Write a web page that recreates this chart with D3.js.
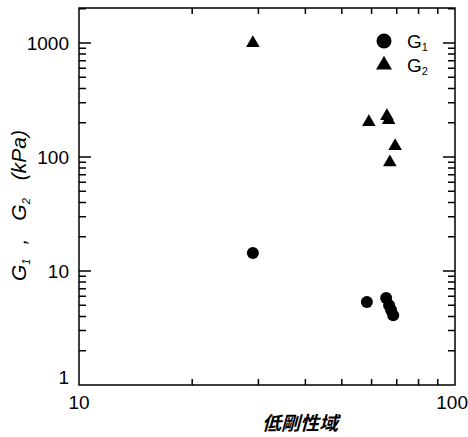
<!DOCTYPE html>
<html>
<head>
<meta charset="utf-8">
<script src="https://cdn.jsdelivr.net/npm/d3@7"></script>
<style>
  body { margin: 0; background: #fff; }
  svg { display: block; }
</style>
</head>
<body>
<svg id="chart"></svg>
<script>
// data
const g1X = [29, 58.3, 65.6, 66.8, 67.6, 68.5];
const g1Y = [14.4, 5.35, 5.8, 5.0, 4.55, 4.1];
const g2X = [29, 59, 65.9, 66.6, 69.3, 67.1];
const g2Y = [1000, 203, 229, 211, 125, 90];
const xTicks = [10, 100];
const yTicks = [1, 10, 100, 1000];

const svg = d3.select('svg#chart')
    .attr('width', 468)
    .attr('height', 437);

const xScale = d3.scaleLog().domain([10, 100]).range([79, 455]);
const yScale = d3.scaleLog().domain([1, 2030]).range([385, 8]);

const xMinor = d3.range(20, 100, 10);
const yMinor = [];
[1, 10, 100, 1000].forEach(d => {
    for (let k = 2; k <= 9; k++) if (d * k < 2030) yMinor.push(d * k);
});
const tickFont = 'Liberation Sans, Arial, sans-serif';
const x0 = xScale(10), x1 = xScale(100);
const y0 = yScale(1), y1 = yScale.range()[1];

// frame and inward ticks, built as one path
const p = d3.path();
p.moveTo(x0, y1); p.lineTo(x1, y1); p.lineTo(x1, y0); p.lineTo(x0, y0); p.closePath();
const yAll = yMinor.map(v => [v, 7]).concat(yTicks.slice(1).map(v => [v, 12]));
yAll.forEach(([v, len]) => {
    const y = yScale(v);
    p.moveTo(x0, y); p.lineTo(x0 + len, y);
    p.moveTo(x1, y); p.lineTo(x1 - len, y);
});
xMinor.forEach(v => {
    const x = xScale(v);
    p.moveTo(x, y0); p.lineTo(x, y0 - 6);
    p.moveTo(x, y1); p.lineTo(x, y1 + 6);
});
svg.append('path')
    .attr('d', p.toString())
    .attr('fill', 'none')
    .attr('stroke', '#000')
    .attr('stroke-width', 1.5);

// tick labels
svg.append('g')
    .attr('font-family', tickFont)
    .attr('font-size', 19)
    .attr('text-anchor', 'end')
    .selectAll('text')
    .data(yTicks)
    .enter()
    .append('text')
    .attr('x', x0 - 10)
    .attr('y', d => yScale(d))
    .attr('dy', d => d === 1 ? '-0.05em' : '0.35em')
    .text(d => d);
svg.append('g')
    .attr('font-family', tickFont)
    .attr('font-size', 19)
    .selectAll('text')
    .data(xTicks)
    .enter()
    .append('text')
    .attr('x', d => xScale(d))
    .attr('y', y0 + 24)
    .attr('text-anchor', d => d === 100 ? 'end' : 'middle')
    .attr('dx', d => d === 100 ? 13 : 0)
    .text(d => d);

// points
const g1 = g1X.map((x, i) => [x, g1Y[i]]);
const g2 = g2X.map((x, i) => [x, g2Y[i]]);

svg.selectAll('circle.g1')
    .data(g1)
    .enter()
    .append('circle')
    .attr('class', 'g1')
    .attr('cx', d => xScale(d[0]))
    .attr('cy', d => yScale(d[1]))
    .attr('r', 6)
    .attr('fill', '#000');

svg.selectAll('path.g2')
    .data(g2)
    .enter()
    .append('path')
    .attr('class', 'g2')
    .attr('d', d3.symbol().type(d3.symbolTriangle).size(80))
    .attr('transform', d => `translate(${xScale(d[0])}, ${yScale(d[1])})`)
    .attr('fill', '#000');

// legend
const legend = svg.append('g').attr('font-family', tickFont);
legend.append('circle').attr('cx', 384).attr('cy', 41).attr('r', 7.5).attr('fill', '#000');
legend.append('path').attr('d', d3.symbol().type(d3.symbolTriangle).size(110))
    .attr('transform', 'translate(384, 65)').attr('fill', '#000');
const l1 = legend.append('text').attr('x', 407).attr('y', 48).style('font-size', '19px');
l1.append('tspan').text('G');
l1.append('tspan').attr('dy', 3).style('font-size', '11px').text('1');
const l2 = legend.append('text').attr('x', 407).attr('y', 72).style('font-size', '19px');
l2.append('tspan').text('G');
l2.append('tspan').attr('dy', 3).style('font-size', '11px').text('2');

// y axis label
const yLab = svg.append('text')
    .attr('transform', 'translate(26, 281) rotate(-90)')
    .attr('font-family', tickFont)
    .style('font-size', '21px')
    .style('font-style', 'italic');
yLab.append('tspan').text('G');
yLab.append('tspan').attr('dy', 4).style('font-size', '11px').text('1');
yLab.append('tspan').attr('dy', -4).attr('dx', 14).text(',');
yLab.append('tspan').attr('dx', 18).text('G');
yLab.append('tspan').attr('dy', 4).style('font-size', '11px').text('2');
yLab.append('tspan').attr('dy', -4).attr('dx', 18).text('(kPa)');

// x axis label
svg.append('text')
    .attr('transform', 'translate(300, 430) skewX(-15)')
    .attr('text-anchor', 'middle')
    .attr('font-family', 'Noto Sans CJK JP, sans-serif')
    .attr('font-weight', 'bold')
    .style('font-size', '19px')
    .text('低剛性域');
</script>
</body>
</html>
